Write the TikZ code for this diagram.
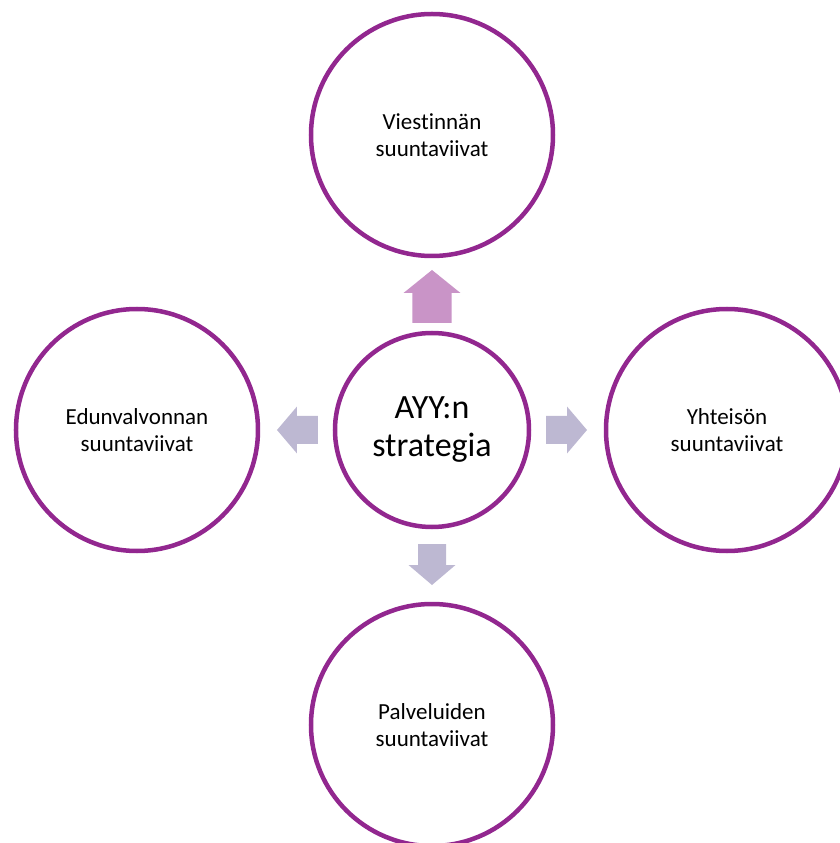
\documentclass[tikz,border=0pt]{standalone}
\usepackage{fontspec}
\setmainfont{Carlito}[Ligatures=NoCommon]
\definecolor{ringpurple}{HTML}{92278F}
\definecolor{uparrow}{HTML}{C994C7}
\definecolor{sidearrow}{HTML}{BDB8D2}

\begin{document}
\begin{tikzpicture}[x=1pt, y=1pt,
    ring/.style={draw=ringpurple, line width=4.5pt, circle, inner sep=0pt, align=center},
  ]
  \def \dist {295}
  \def \rsmall {97pt}
  \def \rbig {121pt}

  \useasboundingbox (-432,430) rectangle (408,-413);

  % middle circle
  \node[ring, minimum size=2*\rsmall, font=\fontsize{34}{38}\selectfont] (hub) at (0,0) {AYY:n\\strategia};

  % outer circles
  \foreach \a/\t/\n in {90/{Viestinnän\\suuntaviivat}/viest,
                        0/{Yhteisön\\suuntaviivat}/yhteis,
                        270/{Palveluiden\\suuntaviivat}/palv,
                        180/{Edunvalvonnan\\suuntaviivat}/edun}
  {
    \node[ring, minimum size=2*\rbig, font=\fontsize{23}{27}\selectfont] (\n) at (\a:\dist) {\t};
  }

  % block arrows
  \begin{scope}[shift={(hub.center)}]
    \foreach \a in {0,180,270}
    {
      \fill[sidearrow, rotate=\a] (114,-14) -- (135,-14) -- (135,-23.5) -- (155,0)
        -- (135,23.5) -- (135,14) -- (114,14) -- cycle;
    }
    \fill[uparrow, rotate=90] (107,-19.5) -- (137,-19.5) -- (137,-28.5) -- (160,0)
      -- (137,28.5) -- (137,19.5) -- (107,19.5) -- cycle;
  \end{scope}
\end{tikzpicture}
\end{document}
